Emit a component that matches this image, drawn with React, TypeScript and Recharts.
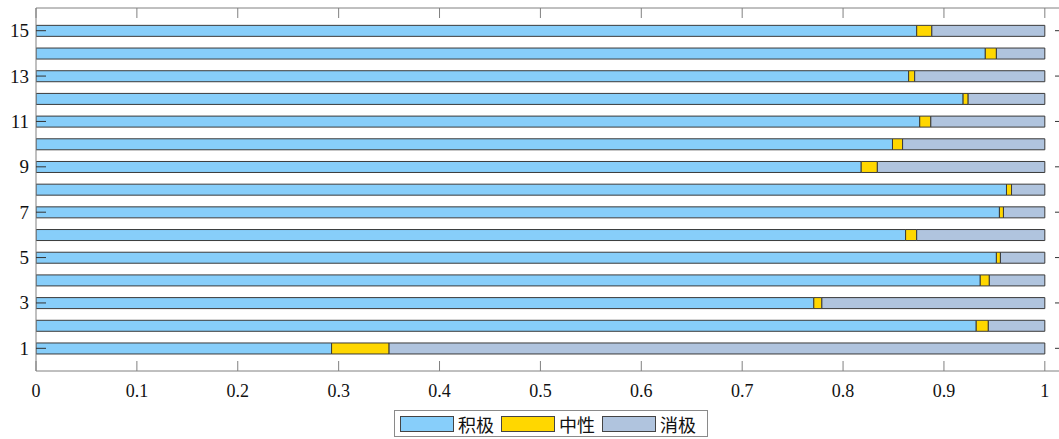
import React from 'react';
import { BarChart, Bar, XAxis, YAxis } from 'recharts';

const categories = ['1', '2', '3', '4', '5', '6', '7', '8', '9', '10', '11', '12', '13', '14', '15'];
const positive = [0.293, 0.932, 0.771, 0.936, 0.952, 0.862, 0.955, 0.962, 0.818, 0.849, 0.876, 0.919, 0.865, 0.941, 0.873];
const neutral = [0.057, 0.012, 0.008, 0.009, 0.004, 0.011, 0.004, 0.005, 0.016, 0.010, 0.011, 0.005, 0.006, 0.011, 0.015];
const negative = [0.650, 0.056, 0.221, 0.055, 0.044, 0.127, 0.041, 0.033, 0.166, 0.141, 0.113, 0.076, 0.129, 0.048, 0.112];

const seriesKeys = ['pos', 'neu', 'neg'];
const seriesNames = ['积极', '中性', '消极'];
const seriesColors = ['#87CEFA', '#FFD700', '#B0C4DE'];

const xTicks = [0, 0.1, 0.2, 0.3, 0.4, 0.5, 0.6, 0.7, 0.8, 0.9, 1];
const labeledCats = ['1', '3', '5', '7', '9', '11', '13', '15'];

const data = categories.map((c, i) => ({ cat: c, pos: positive[i], neu: neutral[i], neg: negative[i] }));

const NUM_FONT = '"Liberation Serif", "Times New Roman", serif';
const CJK_FONT = '"Noto Sans CJK SC", sans-serif';
const AXIS_COLOR = '#808080';
const BAR_STROKE = '#3a3a3a';

const BottomTick = (props: any) => {
  const { x, y, payload } = props;
  return (
    <g>
      <line x1={x} x2={x} y1={y} y2={y - 10} stroke={AXIS_COLOR} strokeWidth={1} />
      <text x={x} y={y + 26} textAnchor="middle" fontFamily={NUM_FONT} fontSize={18} fill="#111">
        {String(payload.value)}
      </text>
    </g>
  );
};

const TopTick = (props: any) => {
  const { x, y } = props;
  return <line x1={x} x2={x} y1={y} y2={y + 10} stroke={AXIS_COLOR} strokeWidth={1} />;
};

const LeftTick = (props: any) => {
  const { x, y, payload } = props;
  if (!labeledCats.includes(String(payload.value))) return <g />;
  return (
    <g>
      <line x1={x} x2={x + 10} y1={y} y2={y} stroke="#333" strokeWidth={1} />
      <text x={x - 7} y={y + 6.5} textAnchor="end" fontFamily={NUM_FONT} fontSize={19} fill="#111">
        {String(payload.value)}
      </text>
    </g>
  );
};

const RightTick = (props: any) => {
  const { x, y, payload } = props;
  if (!labeledCats.includes(String(payload.value))) return <g />;
  return <line x1={x} x2={x - 10} y1={y} y2={y} stroke="#333" strokeWidth={1} />;
};

const LegendBox = () => (
  <div
    style={{
      position: 'absolute',
      left: 394,
      top: 410,
      width: 314,
      height: 27,
      boxSizing: 'border-box',
      border: '1px solid #8a8a8a',
      background: '#fff',
      display: 'flex',
      alignItems: 'center',
      paddingLeft: 5,
      whiteSpace: 'nowrap',
    }}
  >
    {seriesNames.map((name, i) => (
      <div key={name} style={{ display: 'flex', alignItems: 'center', marginRight: 7, flexShrink: 0 }}>
        <div
          style={{
            width: 54,
            height: 16,
            boxSizing: 'border-box',
            border: '1px solid #444',
            background: seriesColors[i],
            marginRight: 4,
            flexShrink: 0,
          }}
        />
        <span
          style={{
            fontFamily: CJK_FONT,
            fontSize: 18,
            lineHeight: '20px',
            color: '#111',
            whiteSpace: 'nowrap',
            flexShrink: 0,
          }}
        >
          {name}
        </span>
      </div>
    ))}
  </div>
);

export default function App() {
  const pad = 363 / 16 / 2;
  return (
    <div style={{ position: 'absolute', left: 0, top: 0, width: 1059, height: 439, overflow: 'hidden', background: '#fff' }}>
      <BarChart
        width={1085}
        height={439}
        data={data}
        layout="vertical"
        margin={{ top: 0, right: 0, bottom: 38, left: 0 }}
        barSize={11}
      >
        <XAxis
          type="number"
          domain={[0, 1.02]}
          ticks={xTicks}
          interval={0}
          height={30}
          tickSize={0}
          tickMargin={0}
          tickLine={false}
          axisLine={{ stroke: AXIS_COLOR }}
          tick={<BottomTick />}
          allowDataOverflow
        />
        <XAxis
          xAxisId="top"
          orientation="top"
          type="number"
          domain={[0, 1.02]}
          ticks={xTicks}
          interval={0}
          height={8}
          tickSize={0}
          tickMargin={0}
          tickLine={false}
          axisLine={{ stroke: AXIS_COLOR }}
          tick={<TopTick />}
          allowDataOverflow
        />
        <YAxis
          type="category"
          dataKey="cat"
          reversed
          width={36}
          interval={0}
          tickSize={0}
          tickMargin={0}
          tickLine={false}
          axisLine={{ stroke: AXIS_COLOR }}
          padding={{ top: pad, bottom: pad }}
          tick={<LeftTick />}
        />
        <YAxis
          yAxisId="right"
          orientation="right"
          type="category"
          dataKey="cat"
          reversed
          width={20}
          interval={0}
          tickSize={0}
          tickMargin={0}
          tickLine={false}
          axisLine={{ stroke: AXIS_COLOR }}
          padding={{ top: pad, bottom: pad }}
          tick={<RightTick />}
        />
        {seriesKeys.map((k, i) => (
          <Bar
            key={k}
            dataKey={k}
            name={seriesNames[i]}
            stackId="s"
            fill={seriesColors[i]}
            stroke={BAR_STROKE}
            strokeWidth={1}
            isAnimationActive={false}
          />
        ))}
      </BarChart>
      <LegendBox />
    </div>
  );
}
